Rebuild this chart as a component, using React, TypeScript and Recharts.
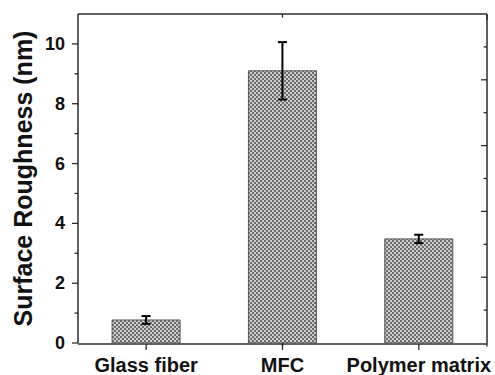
import React from 'react';
import { BarChart, Bar, XAxis, YAxis, ErrorBar } from 'recharts';

const CATEGORIES = ['Glass fiber', 'MFC', 'Polymer matrix'];
const ROUGHNESS = [0.77, 9.1, 3.48];
const ROUGHNESS_ERR = [0.13, 0.96, 0.14];

const Y_DOMAIN = [0, 11];
const Y_TICKS = [0, 1, 2, 3, 4, 5, 6, 7, 8, 9, 10];
// top/right frame axes carry their own 0..10 scale (ticks only)
const FRAME_DOMAIN = [0, 10];
const FRAME_TICKS = [1, 2, 3, 4, 5, 6, 7, 8, 9];
// minor ticks between categories on the bottom axis
const CATEGORY_BOUNDARIES = [1, 2];

const Y_LABEL = 'Surface Roughness (nm)';

const AXIS = '#2b2b2b';
const FONT = 'Liberation Sans, Arial, sans-serif';

const data = CATEGORIES.map((name, i) => ({
  name,
  value: ROUGHNESS[i],
  err: ROUGHNESS_ERR[i],
}));

const LeftTick = (props: any) => {
  const { x, y, payload } = props;
  const major = payload.value % 2 === 0;
  return (
    <g>
      <line x1={x} x2={x - (major ? 6 : 3.5)} y1={y} y2={y} stroke={AXIS} strokeWidth={1.3} />
      {major && (
        <text x={x - 13} y={y} textAnchor="end" dominantBaseline="central"
          fontFamily={FONT} fontWeight="bold" fontSize={18} fill="#111">
          {payload.value}
        </text>
      )}
    </g>
  );
};

const RightTick = (props: any) => {
  const { x, y, payload } = props;
  const major = payload.value % 2 === 0;
  return <line x1={x} x2={x - (major ? 6 : 3.5)} y1={y} y2={y} stroke={AXIS} strokeWidth={1.3} />;
};

const TopTick = (props: any) => {
  const { x, y, payload } = props;
  const major = payload.value % 2 === 0;
  return <line x1={x} x2={x} y1={y} y2={y + (major ? 6 : 3.5)} stroke={AXIS} strokeWidth={1.3} />;
};

const MinorBottomTick = (props: any) => {
  const { x, y } = props;
  return <line x1={x} x2={x} y1={y} y2={y + 3.5} stroke={AXIS} strokeWidth={1.3} />;
};

const CategoryTick = (props: any) => {
  const { x, y, payload } = props;
  return (
    <g>
      <line x1={x} x2={x} y1={y} y2={y + 6} stroke={AXIS} strokeWidth={1.3} />
      <text x={x} y={y + 28} textAnchor="middle" fontFamily={FONT} fontWeight="bold" fontSize={20} fill="#111">
        {payload.value}
      </text>
    </g>
  );
};

const YLabel = (props: any) => {
  const vb = props.viewBox;
  const cx = vb.x + 32;
  const cy = vb.y + vb.height / 2;
  return (
    <text x={cx} y={cy} transform={`rotate(-90 ${cx} ${cy})`} textAnchor="middle"
      fontFamily={FONT} fontWeight="bold" fontSize={25} fill="#111">
      {Y_LABEL}
    </text>
  );
};

export default function App() {
  return (
    <div style={{ position: 'absolute', left: 0, top: 0, background: '#fff' }}>
      <BarChart width={495} height={375} data={data} barCategoryGap="25%"
        margin={{ top: 13, right: 7, bottom: 30, left: 0 }}>
        <defs>
          <pattern id="checker" width={4} height={4} patternUnits="userSpaceOnUse">
            <rect width={4} height={4} fill="#cdcdcd" />
            <rect width={2} height={2} fill="#6c6c6c" />
            <rect x={2} y={2} width={2} height={2} fill="#6c6c6c" />
          </pattern>
        </defs>
        <XAxis xAxisId="cat" dataKey="name" type="category" height={1} interval={0}
          axisLine={{ stroke: AXIS, strokeWidth: 1.5 }} tickLine={false} tickSize={0} tickMargin={0}
          tick={<CategoryTick />} />
        <XAxis xAxisId="bminor" type="number" domain={[0, CATEGORIES.length]} ticks={CATEGORY_BOUNDARIES}
          allowDataOverflow height={1} interval={0} axisLine={false} tickLine={false} tickSize={0} tickMargin={0}
          tick={<MinorBottomTick />} />
        <XAxis xAxisId="top" orientation="top" type="number" domain={FRAME_DOMAIN} ticks={FRAME_TICKS}
          allowDataOverflow height={1} interval={0} axisLine={{ stroke: AXIS, strokeWidth: 1.5 }}
          tickLine={false} tickSize={0} tickMargin={0} tick={<TopTick />} />
        <YAxis type="number" domain={Y_DOMAIN} ticks={Y_TICKS} allowDataOverflow width={78} interval={0}
          axisLine={{ stroke: AXIS, strokeWidth: 1.5 }} tickLine={false} tickSize={0} tickMargin={0}
          tick={<LeftTick />} label={{ content: <YLabel /> }} />
        <YAxis yAxisId="right" orientation="right" type="number" domain={FRAME_DOMAIN} ticks={FRAME_TICKS}
          allowDataOverflow width={1} interval={0} axisLine={{ stroke: AXIS, strokeWidth: 1.5 }}
          tickLine={false} tickSize={0} tickMargin={0} tick={<RightTick />} />
        <Bar xAxisId="cat" dataKey="value" fill="url(#checker)" stroke="#555" strokeWidth={1}
          isAnimationActive={false}>
          <ErrorBar dataKey="err" width={4.5} stroke="#000" strokeWidth={2} isAnimationActive={false} />
        </Bar>
      </BarChart>
    </div>
  );
}
